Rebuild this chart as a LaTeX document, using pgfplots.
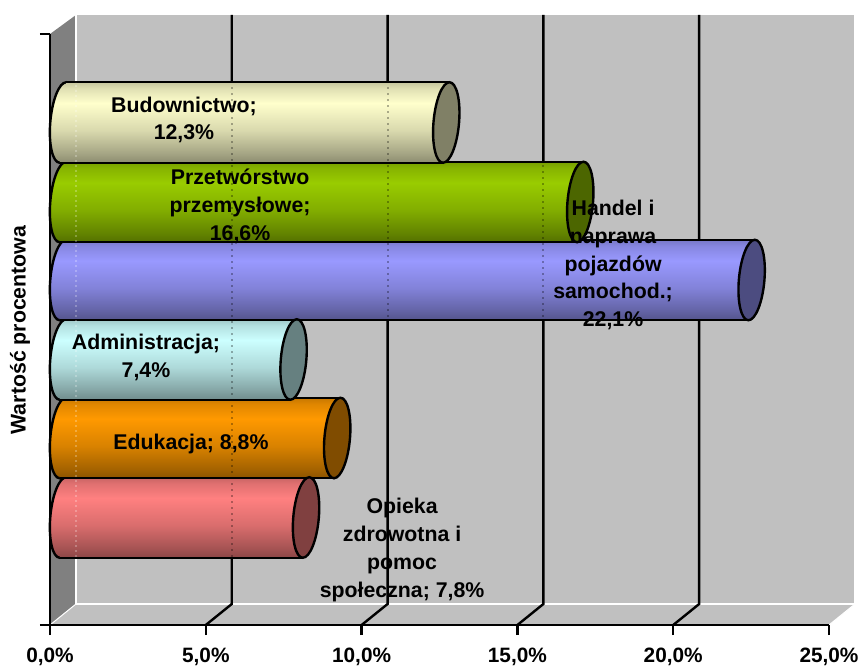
\documentclass[border=0pt]{standalone}
\usepackage{pgfplots}
\pgfplotsset{compat=1.18}
\usepackage{fontspec}
\usetikzlibrary{shapes.geometric}
\setmainfont{Liberation Sans}
\definecolor{wall}{HTML}{C0C0C0}
\definecolor{side}{HTML}{808080}
\definecolor{cA}{HTML}{FFFFCC}\definecolor{dA}{HTML}{808066}
\definecolor{cB}{HTML}{99CC00}\definecolor{dB}{HTML}{4C6600}
\definecolor{cC}{HTML}{9999FF}\definecolor{dC}{HTML}{4C4C80}
\definecolor{cD}{HTML}{CCFFFF}\definecolor{dD}{HTML}{668080}
\definecolor{cE}{HTML}{FF9900}\definecolor{dE}{HTML}{804C00}
\definecolor{cF}{HTML}{FF8080}\definecolor{dF}{HTML}{804040}
\newcommand\defcyl[1]{%
  \pgfdeclareverticalshading{sh#1}{100bp}{%
    color(0bp)=(c#1!55!black);color(25bp)=(c#1!55!black);
    color(31bp)=(c#1!65!black);color(45bp)=(c#1!85!black);
    color(62bp)=(c#1);color(71bp)=(c#1!88!black);
    color(75bp)=(c#1!78!black);color(100bp)=(c#1!78!black)}%
}
\defcyl{A}\defcyl{B}\defcyl{C}\defcyl{D}\defcyl{E}\defcyl{F}
% one cylinder: letter, value, centre height, upper edge, lower edge
\newcommand\cyl[5]{%
  \addplot[draw=none,xshift=13pt] coordinates {(0,#3)}
    node[pos=0,ellipse,shade,shading=sh#1,draw=black,line width=2.4pt,inner sep=0pt,outer sep=0pt,
         minimum width=25.5pt,minimum height=80.5pt,xslant=.08,transform shape] {};
  \addplot[xbar,bar width=80.5pt,shade,shading=sh#1,draw=none,
           xshift={(13-0.08*#3)*1pt},xslant=.08] coordinates {(#2,#3)};
  \addplot[black,line width=2.4pt,xshift={(13-0.08*#3)*1pt},xslant=.08] coordinates {(0,#4)(#2,#4)};
  \addplot[black,line width=2.4pt,xshift={(13-0.08*#3)*1pt},xslant=.08] coordinates {(0,#5)(#2,#5)};
  \addplot[only marks,mark=*,mark size=1pt,xshift=13pt,
    mark options={cm={12.8,0,3.22,40.25,(0,0)},line width=2.4pt,draw=black,fill=d#1}] coordinates {(#2,#3)};
}
\newcommand\lab[3]{\addplot[on layer=axis foreground,draw=none] coordinates {(#1,#2)}
  node[pos=0,font=\fontsize{21.3}{27.8}\selectfont\bfseries,align=center,inner sep=0pt,text=black] {#3};}
\begin{document}
\begin{tikzpicture}
\begin{axis}[
  set layers=standard,
  scale only axis,width=779pt,height=591pt,
  xmin=0,xmax=25,ymin=0,ymax=591,clip=false,
  axis x line*=bottom,axis y line*=left,
  axis line style={-,line width=2.4pt,black},
  tick style={line width=2.4pt,black},
  major tick length=10pt,
  tick align=outside,
  xtick={0,5,10,15,20,25},
  xticklabels={{0,0\%},{5,0\%},{10,0\%},{15,0\%},{20,0\%},{25,0\%}},
  ytick={0,591},yticklabels={},
  xticklabel style={font=\fontsize{20.8}{24}\selectfont\bfseries,inner sep=0pt,yshift=-12.5pt},
  ylabel={Wartość procentowa},
  every axis y label/.style={at={(axis cs:-0.96,295)},rotate=90,anchor=center,font=\fontsize{21.3}{24}\selectfont\bfseries},
]
% bounding box of the page
\path (axis cs:-1.6046,-37) rectangle (axis cs:25.995,625);
% walls and floor
\addplot[on layer=axis background,fill=side,draw=none] coordinates {(0,0)(0.834,21)(0.834,610)(0,591)} -- cycle;
\addplot[on layer=axis background,fill=wall,draw=none] coordinates {(0.834,21)(25.834,21)(25.834,610)(0.834,610)} -- cycle;
\addplot[on layer=axis background,fill=wall,draw=none] coordinates {(0,0)(0.834,21)(25.834,21)(25,0)} -- cycle;
% white edges
\addplot[on layer=axis background,white,line width=1.2pt] coordinates {(0.834,610)(0.834,21)};
\addplot[on layer=axis background,white,line width=2.6pt] coordinates {(0.834,21)(25.834,21)};
\addplot[on layer=axis background,white,line width=1pt] coordinates {(25.834,21)(25.834,610)};
\addplot[on layer=axis background,white,line width=1pt] coordinates {(0,0)(0.834,21)};
\addplot[on layer=axis background,white,line width=1pt] coordinates {(25,0)(25.834,21)};
% grid
\addplot[on layer=axis background,black,line width=2.4pt] coordinates {(5,0)(5.834,21)(5.834,610)};
\addplot[on layer=axis background,black,line width=2.4pt] coordinates {(10,0)(10.834,21)(10.834,610)};
\addplot[on layer=axis background,black,line width=2.4pt] coordinates {(15,0)(15.834,21)(15.834,610)};
\addplot[on layer=axis background,black,line width=2.4pt] coordinates {(20,0)(20.834,21)(20.834,610)};
% cylinders, bottom to top
\cyl{F}{7.8}{107.5}{147.75}{67.25}
\cyl{E}{8.8}{187}{227.25}{146.75}
\cyl{D}{7.4}{265.5}{305.75}{225.25}
\cyl{C}{22.1}{345}{385.25}{304.75}
\cyl{B}{16.6}{423}{463.25}{382.75}
\cyl{A}{12.3}{502.5}{542.75}{462.25}
% grid showing faintly through
\addplot[black,opacity=.3,line width=2pt,dash pattern=on 2pt off 4pt] coordinates {(5.834,68)(5.834,543)};
\addplot[black,opacity=.3,line width=2pt,dash pattern=on 2pt off 4pt] coordinates {(10.834,68)(10.834,543)};
\addplot[black,opacity=.3,line width=2pt,dash pattern=on 2pt off 4pt] coordinates {(15.834,68)(15.834,543)};
\addplot[white,opacity=.25,line width=1.2pt,dash pattern=on 2pt off 3pt] coordinates {(0.834,68)(0.834,543)};
% data labels
\lab{4.30}{505}{Budownictwo;\\12,3\%}
\lab{6.10}{418.5}{Przetwórstwo\\przemysłowe;\\16,6\%}
\lab{18.07}{360}{Handel i\\naprawa\\pojazdów\\samochod.;\\22,1\%}
\lab{3.08}{267.5}{Administracja;\\7,4\%}
\lab{4.525}{181.5}{Edukacja; 8,8\%}
\lab{11.30}{75}{Opieka\\zdrowotna i\\pomoc\\społeczna; 7,8\%}
\end{axis}
\end{tikzpicture}
\end{document}
